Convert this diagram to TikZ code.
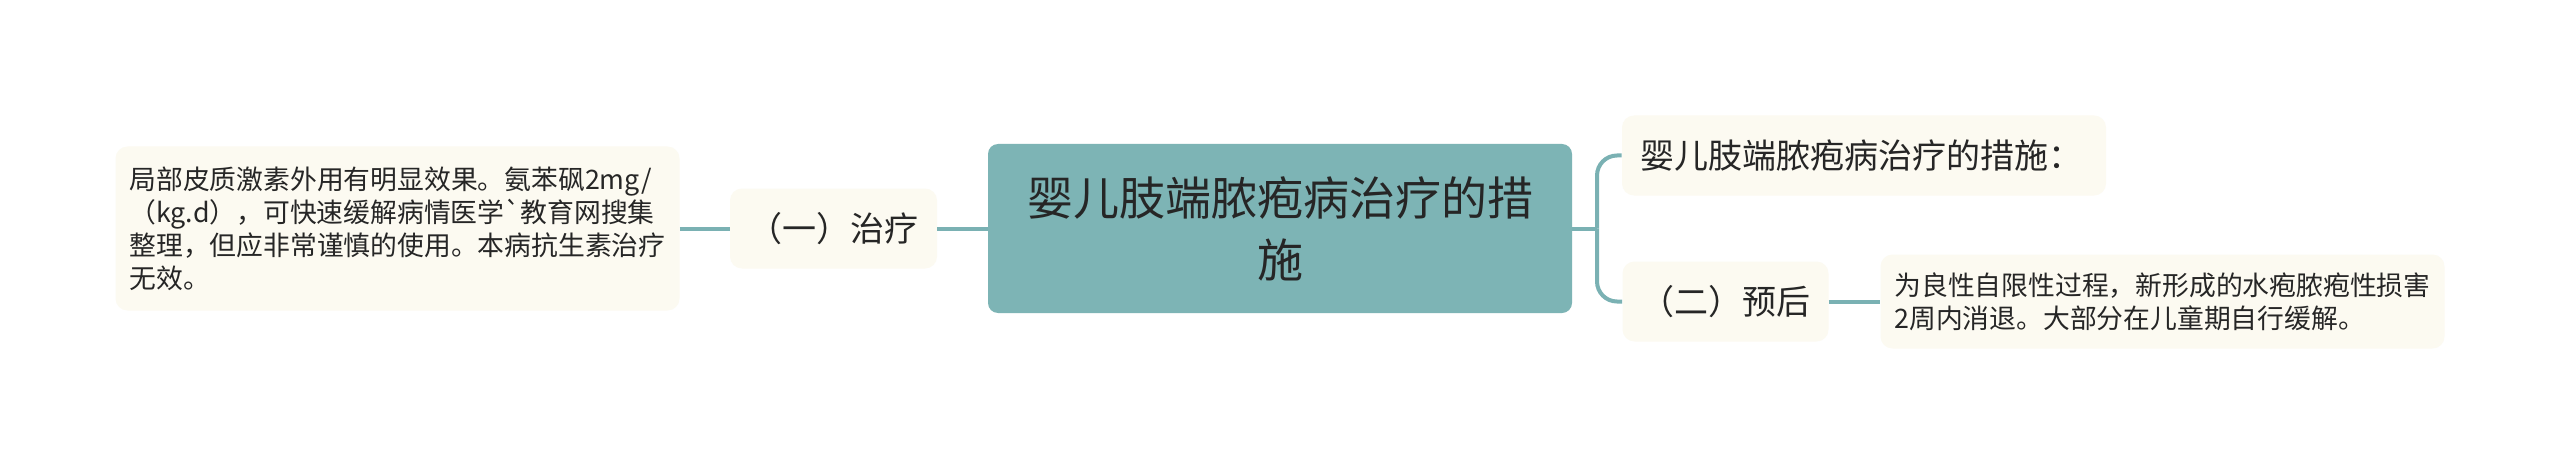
\documentclass[tikz,border=0pt]{standalone}
\usepackage{fontspec}
\newfontfamily\cjk{Noto Sans CJK SC}

\definecolor{rootfill}{HTML}{7DB4B5}
\definecolor{linkcol}{HTML}{7AB1B3}
\definecolor{boxfill}{HTML}{FCFAF1}
\definecolor{inkcol}{HTML}{262626}

\tikzset{
  rootbox/.style={fill=rootfill, rounded corners=5pt, inner sep=0pt,
    minimum width=292pt, minimum height=84.5pt, align=center, text=inkcol,
    font=\cjk\fontsize{23}{31}\selectfont},
  topicbox/.style={fill=boxfill, rounded corners=6pt, inner xsep=9pt,
    minimum height=40pt, text=inkcol, font=\cjk\fontsize{17}{21}\selectfont},
  notebox/.style={fill=boxfill, rounded corners=6pt, inner xsep=7pt,
    text width=268pt, align=left, text=inkcol,
    font=\cjk\fontsize{13.4}{16.5}\selectfont},
  link/.style={draw=linkcol, line width=2pt}
}

\begin{document}
\begin{tikzpicture}[x=0.5pt,y=-0.5pt]

    % Canvas of the mind map (pixel units, y going down)
    \fill[white] (0,0) rectangle (2560,465);
    \useasboundingbox (0,0) rectangle (2560,465);

    % Central topic
    \node[rootbox] (root) at (1280,228.5) {婴儿肢端脓疱病治疗的措\\施};

    % Left branch: treatment and its note
    \node[topicbox, minimum width=103.5pt] (cure) at (833.5,228.5) {（一）治疗};
    \node[notebox, minimum height=82pt] (curenote) at (397.5,228.5) {局部皮质激素外用有明显效果。氨苯砜2mg/\\（kg.d），可快速缓解病情医学`教育网搜集\\整理，但应非常谨慎的使用。本病抗生素治疗\\无效。};

    % Right branches: heading, outlook and its note
    \node[topicbox, text width=224pt, align=left] (intro) at (1864,155.5) {婴儿肢端脓疱病治疗的措施：};
    \node[topicbox, minimum width=102.5pt] (outlook) at (1725.5,301.5) {（二）预后};
    \node[notebox, minimum height=47pt] (outlooknote) at (2162.5,301.5) {为良性自限性过程，新形成的水疱脓疱性损害\\2周内消退。大部分在儿童期自行缓解。};

    % Connectors on the left
    \draw[link] (curenote) -- (cure);
    \draw[link] (cure) -- (root);

    % Fork on the right with rounded bends
    \coordinate (fork) at (1597,228.5);
    \draw[link] (root.east) -- (fork);
    \draw[link, rounded corners=10pt] (fork) |- (intro.west);
    \draw[link, rounded corners=10pt] (fork) |- (outlook.west);
    \draw[link] (outlook) -- (outlooknote);

\end{tikzpicture}
\end{document}
